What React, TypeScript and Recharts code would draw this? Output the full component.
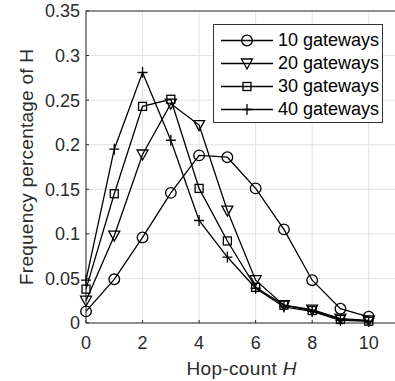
import React from "react";
import {
  LineChart,
  Line,
  XAxis,
  YAxis,
  CartesianGrid,
  Legend,
  ReferenceLine,
} from "recharts";

const hops = [0, 1, 2, 3, 4, 5, 6, 7, 8, 9, 10];
const gateways10 = [0.013, 0.049, 0.096, 0.146, 0.188, 0.186, 0.151, 0.105, 0.048, 0.016, 0.007];
const gateways20 = [0.025, 0.098, 0.189, 0.246, 0.222, 0.126, 0.048, 0.02, 0.015, 0.005, 0.003];
const gateways30 = [0.038, 0.145, 0.243, 0.251, 0.151, 0.092, 0.04, 0.02, 0.014, 0.004, 0.002];
const gateways40 = [0.048, 0.195, 0.281, 0.205, 0.115, 0.074, 0.039, 0.018, 0.013, 0.003, 0.002];

const xTicks = [0, 2, 4, 6, 8, 10];
const yTicks = [0, 0.05, 0.1, 0.15, 0.2, 0.25, 0.3, 0.35];

const data = hops.map((h, i) => ({
  h,
  g10: gateways10[i],
  g20: gateways20[i],
  g30: gateways30[i],
  g40: gateways40[i],
}));

const FONT = "'Liberation Sans', Arial, Helvetica, sans-serif";
const AXIS = "#2b2b2b";
const SW = 1.3;

type Shape = "circle" | "triangle" | "square" | "plus";

function Marker({ shape, cx, cy }: { shape: Shape; cx: number; cy: number }) {
  const p = { fill: "none", stroke: "#000", strokeWidth: SW };
  if (shape === "circle") return <circle cx={cx} cy={cy} r={5.3} {...p} />;
  if (shape === "triangle")
    return (
      <polygon
        points={`${cx - 5.5},${cy - 4.5} ${cx + 5.5},${cy - 4.5} ${cx},${cy + 5.5}`}
        {...p}
      />
    );
  if (shape === "square")
    return <rect x={cx - 4} y={cy - 4} width={8} height={8} {...p} />;
  return (
    <path d={`M${cx - 5},${cy}H${cx + 5}M${cx},${cy - 5.5}V${cy + 5.5}`} {...p} />
  );
}

const dotFor = (shape: Shape) => (props: any) => {
  const { cx, cy, index } = props;
  if (cx == null || cy == null) return <g key={index} />;
  return <Marker key={index} shape={shape} cx={cx} cy={cy} />;
};

const series: { key: string; name: string; shape: Shape }[] = [
  { key: "g10", name: "10 gateways", shape: "circle" },
  { key: "g20", name: "20 gateways", shape: "triangle" },
  { key: "g30", name: "30 gateways", shape: "square" },
  { key: "g40", name: "40 gateways", shape: "plus" },
];

function LegendBox() {
  return (
    <div
      style={{
        width: 170,
        height: 99,
        boxSizing: "border-box",
        border: "1px solid #333",
        background: "#fff",
        paddingTop: 4,
        fontFamily: FONT,
        fontSize: 18,
        color: "#000",
      }}
    >
      {series.map((s) => (
        <div
          key={s.key}
          style={{ display: "flex", alignItems: "center", height: 23 }}
        >
          <svg width={64} height={23} style={{ flexShrink: 0 }}>
            <line x1={7} x2={59} y1={11.5} y2={11.5} stroke="#000" strokeWidth={SW} />
            <Marker shape={s.shape} cx={33} cy={11.5} />
          </svg>
          <span style={{ whiteSpace: "nowrap" }}>{s.name}</span>
        </div>
      ))}
    </div>
  );
}

function XLabel({ viewBox }: any) {
  const { x, y, width } = viewBox;
  return (
    <text
      x={x + width / 2}
      y={y + 52}
      textAnchor="middle"
      fontFamily={FONT}
      fontSize={19}
      fill={AXIS}
      textLength={110}
    >
      Hop-count <tspan fontStyle="italic">H</tspan>
    </text>
  );
}

function YLabel({ viewBox }: any) {
  const { x, y, height } = viewBox;
  const cx = x + 33;
  const cy = y + height / 2;
  return (
    <text
      x={cx}
      y={cy}
      transform={`rotate(-90, ${cx}, ${cy})`}
      textAnchor="middle"
      fontFamily={FONT}
      fontSize={19}
      fill={AXIS}
      textLength={236}
    >
      Frequency percentage of H
    </text>
  );
}

export default function App() {
  const tickStyle = { fill: AXIS, fontSize: 18, fontFamily: FONT };
  return (
    <div
      style={{
        position: "fixed",
        left: 0,
        top: 0,
        width: 395,
        height: 381,
        overflow: "hidden",
        background: "#fff",
      }}
    >
      <LineChart
        width={400}
        height={381}
        data={data}
        margin={{ top: 11, right: 3, bottom: 0, left: 0 }}
      >
        <CartesianGrid stroke="#e3e3e3" strokeWidth={1} />
        <XAxis
          dataKey="h"
          type="number"
          domain={[0, 11]}
          ticks={xTicks}
          height={58}
          tickSize={-3}
          tickMargin={16}
          tick={tickStyle}
          axisLine={{ stroke: AXIS }}
          tickLine={{ stroke: AXIS }}
          label={<XLabel />}
        />
        <XAxis
          xAxisId="top"
          orientation="top"
          dataKey="h"
          type="number"
          domain={[0, 11]}
          ticks={xTicks}
          height={0}
          tickSize={-3}
          tick={() => <g />}
          axisLine={false}
          tickLine={{ stroke: AXIS }}
        />
        <YAxis
          type="number"
          domain={[0, 0.35]}
          ticks={yTicks}
          width={86}
          tickSize={-3}
          tickMargin={9}
          tick={tickStyle}
          axisLine={{ stroke: AXIS }}
          tickLine={{ stroke: AXIS }}
          label={<YLabel />}
        />
        <ReferenceLine y={0.35} stroke={AXIS} />
        {series.map((s) => (
          <Line
            key={s.key}
            dataKey={s.key}
            name={s.name}
            stroke="#000"
            strokeWidth={SW}
            dot={dotFor(s.shape)}
            activeDot={false}
            isAnimationActive={false}
          />
        ))}
        <Legend
          layout="vertical"
          align="center"
          verticalAlign="middle"
          content={() => <LegendBox />}
          wrapperStyle={{ left: 213, top: 24, width: 170, height: 99 }}
        />
      </LineChart>
    </div>
  );
}
